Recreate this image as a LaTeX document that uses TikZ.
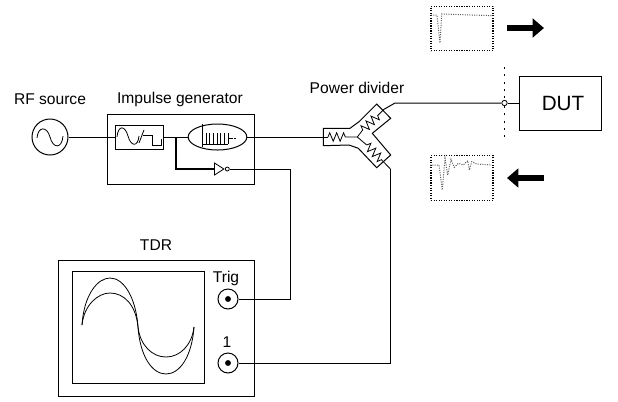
\documentclass[tikz,border=0pt]{standalone}
\usepackage{fontspec}
\setmainfont{Liberation Sans}
\usetikzlibrary{arrows.meta,decorations.pathmorphing,shapes.geometric,positioning}
\definecolor{tracegray}{RGB}{90, 90, 90}

\begin{document}
\begin{tikzpicture}[
  x=0.75pt, y=-0.75pt,
  box/.style={rectangle, draw=black, line width=0.75pt, inner sep=0pt},
  port/.style={circle, draw=black, line width=0.75pt, minimum size=15pt, inner sep=0pt},
  lbl/.style={inner sep=0pt, font=\fontsize{11.7}{13}\selectfont},
  wire/.style={line width=0.75pt},
  glyph/.style={line width=0.6pt},
  resistor/.style={line width=0.6pt, decorate, decoration={zigzag, amplitude=3.2pt, segment length=5.2pt}},
  icon/.style={rectangle, draw=black, densely dotted, line width=0.9pt, inner sep=0pt, minimum width=46.5pt, minimum height=33.3pt},
  trace/.style={tracegray, densely dotted, line width=0.75pt},
  flow/.style={-{Triangle[length=8.5pt, width=14pt]}, line width=5pt}
]
  \useasboundingbox (0,0) rectangle (618,401);

  % labels
  \node[lbl] (rflabel) at (50,99) {RF source};
  \node[lbl] (implabel) at (180,99) {Impulse generator};
  \node[lbl] (divlabel) at (357,88) {Power divider};
  \node[lbl] (tdrlabel) at (156,245) {TDR};
  \node[lbl] (triglabel) at (226,278) {Trig};
  \node[lbl] (onelabel) at (227,342) {1};
  \node[lbl, font=\fontsize{15.5}{18}\selectfont] (dutlabel) at (563,103) {DUT};

  % source and generator
  \node[port, minimum size=27pt] (source) at (50,137) {};
  \draw[glyph] (37,138) .. controls (38,126) and (47,126) .. (50,137) .. controls (53,149) and (62,149) .. (63,136);
  \node[box, minimum width=110.25pt, minimum height=52.5pt] (impulse) at (180.5,149) {};
  \node[box, minimum width=36pt, minimum height=18pt] (convert) at (139,137) {};
  \node[ellipse, draw=black, line width=0.75pt, minimum width=44pt, minimum height=19.5pt, inner sep=0pt] (comb) at (217.5,137) {};
  \draw[glyph] (117,137) .. controls (118,125) and (125,125) .. (128,136) .. controls (131,147) and (138,147) .. (139,136);
  \draw[glyph] (139,143) -- (144,130);
  \draw[glyph] (143,135) -- (152,135) -- (152,145) -- (161,145) -- (161,139);
  \draw[glyph] (202,124) -- (202,147);
  \draw[glyph] (202,144) -- (228,144);
  \foreach \x in {206,209.7,213.4,217.1,220.8,224.5,228} {
    \draw[glyph] (\x,133) -- (\x,144);
  }
  \draw[glyph] (228,138) -- (231,138);
  \draw[glyph, dash pattern=on 1.5pt off 0.8pt] (231,138) -- (237,138);
  \node[isosceles triangle, draw=black, line width=0.6pt, inner sep=0pt, minimum height=7pt, minimum width=9pt, isosceles triangle stretches] (buffer) at (217.8,169) {};
  \node[circle, draw=black, line width=0.6pt, minimum size=3pt, inner sep=0pt, right=0pt of buffer.east] (bubble) {};

  % power divider
  \draw[line width=0.75pt] (323.3,128.3) -- (350,128.3) -- (359,121.7) -- (376.7,104) -- (390.7,118.3)
    -- (372.3,133.3) -- (390.7,155) -- (376.7,167.7) -- (358.3,148.3) -- (349,145) -- (323.3,145.7) -- cycle;
  \coordinate (divin) at (323.3,137);
  \coordinate (divmid) at (357.3,137);
  \coordinate (upa) at (362.7,130);
  \coordinate (upb) at (380,113.3);
  \coordinate (upc) at (384,109.3);
  \coordinate (downa) at (366.7,145);
  \coordinate (downb) at (381.7,160);
  \coordinate (downc) at (390.7,169.3);
  \draw[glyph] (divin) -- (328,137);
  \draw[resistor] (328,137) -- (348,137);
  \draw[glyph] (348,137) -- (divmid) -- (upa);
  \draw[resistor] (upa) -- (upb);
  \draw[glyph] (upb) -- (upc);
  \draw[glyph] (divmid) -- (downa);
  \draw[resistor] (downa) -- (downb);
  \draw[glyph] (downb) -- (downc);

  % DUT
  \node[box, minimum width=62pt, minimum height=40.5pt] (dut) at (560.5,103) {};
  \node[circle, draw=black, fill=white, line width=0.6pt, minimum size=4pt, inner sep=0pt] (refplane) at (504.5,103) {};
  \coordinate (planetop) at (504.5,67);
  \coordinate (planebot) at (504.5,140);
  \draw[line width=1pt, dash pattern=on 1.5pt off 4pt] (planetop) -- (refplane);
  \draw[line width=1pt, dash pattern=on 1.5pt off 4pt] (refplane) -- (planebot);

  % TDR
  \node[box, minimum width=147pt, minimum height=102pt] (tdr) at (156,328) {};
  \node[box, minimum width=99pt, minimum height=84pt] (screen) at (138,327) {};
  \node[port] (trig) at (228,299) {};
  \node[port] (one) at (228,363) {};
  \fill (trig) circle (2.2pt);
  \fill (one) circle (2.2pt);
  \draw[glyph] (82,325) .. controls (84,294) and (98,278) .. (110,278) .. controls (124,278) and (136,298) .. (138,327)
    .. controls (140,356) and (152,374) .. (166,374) .. controls (180,374) and (192,356) .. (194,327);
  \draw[glyph] (82,325) .. controls (84,305) and (98,293) .. (110,293) .. controls (124,293) and (136,305) .. (138,327)
    .. controls (140,345) and (152,357) .. (166,357) .. controls (180,357) and (192,345) .. (194,327);

  % wires
  \coordinate (trigbend) at (290,299);
  \coordinate (trigtop) at (290,169);
  \coordinate (onebend) at (390.7,363);
  \coordinate (upbend) at (395,103);
  \coordinate (branch) at (176,137);
  \coordinate (branchlow) at (176,169);
  \draw[wire] (source.east) -- (convert.west);
  \draw[wire] (convert.east) -- (comb.west);
  \draw[wire] (comb.east) -- (divin);
  \draw[line width=1pt] (branch) -- (branchlow) -- (buffer.west);
  \draw[wire] (bubble.east) -- (trigtop) -- (trigbend) -- (trig.east);
  \draw[wire] (downc) -- (onebend) -- (one.east);
  \draw[wire] (upc) -- (upbend) -- (refplane.west);
  \draw[wire] (refplane.east) -- (dut.west);

  % incident and reflected waveforms
  \node[icon] (incident) at (462,28.5) {};
  \draw[trace] (431,15) -- (437,15) -- (440,43) -- (441.7,14) -- (493,15.7);
  \node[icon] (reflected) at (462,178) {};
  \draw[trace] (430,165) -- (439,165) -- (442.3,190) -- (445,158.3) -- (447.7,175) -- (451,159.3) -- (454.3,167.3)
    -- (458.3,163.3) -- (463.3,165) -- (467.7,160.7) -- (469.3,170) -- (471.7,161.7) -- (476.7,164) -- (491.7,165);
  \coordinate (fwda) at (507,28);
  \coordinate (fwdb) at (544,28);
  \coordinate (backa) at (544,178);
  \coordinate (backb) at (507,178);
  \draw[flow] (fwda) -- (fwdb);
  \draw[flow] (backa) -- (backb);
\end{tikzpicture}
\end{document}
